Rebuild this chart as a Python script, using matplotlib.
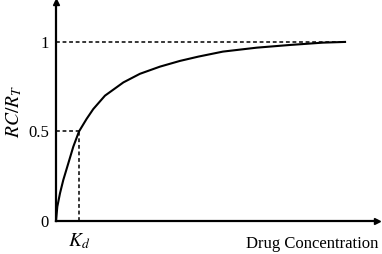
import matplotlib.pyplot as plt

# concentration in units of Kd
conc = [0, 0.057, 0.174, 0.317, 0.535, 0.752, 1.0, 1.33, 1.62, 2.13, 2.93,
        3.65, 4.52, 5.39, 6.19, 7.26, 8.73, 10.17, 11.6, 12.57]
occupancy = [0, 0.08, 0.155, 0.229, 0.322, 0.415, 0.5, 0.57, 0.625, 0.70, 0.774,
             0.822, 0.862, 0.894, 0.918, 0.946, 0.968, 0.983, 0.996, 1.0]
kd = 1.0
y_ticks = [0, 0.5, 1]
y_tick_labels = ['0', '0.5', '1']

plt.rcParams['font.family'] = ['Liberation Serif', 'DejaVu Serif']
plt.rcParams['mathtext.fontset'] = 'stix'

fig = plt.figure(figsize=(3.82, 2.54), dpi=100)
ax = fig.add_axes([56 / 382, 33 / 254, 321 / 382, 219 / 254])
xmax, ymax = 13.96, 1.223
ax.set_xlim(0, xmax)
ax.set_ylim(0, ymax)

ax.plot(conc, occupancy, color='black', lw=1.5, clip_on=False)
dash = (0, (2.5, 1.8))
ax.plot([0, conc[-1]], [1, 1], color='black', lw=1.1, ls=dash)
ax.plot([0, kd], [0.5, 0.5], color='black', lw=1.1, ls=dash)
ax.plot([kd, kd], [0, 0.5], color='black', lw=1.1, ls=dash)

for side in ['top', 'right']:
    ax.spines[side].set_visible(False)
for side in ['left', 'bottom']:
    ax.spines[side].set_linewidth(1.6)
ax.plot(1, 0, '>k', ms=5, transform=ax.transAxes, clip_on=False)
ax.plot(0, 1, '^k', ms=5, transform=ax.transAxes, clip_on=False)

ax.set_xticks([])
ax.set_yticks(y_ticks)
ax.set_yticklabels(y_tick_labels, fontsize=12)
ax.tick_params(axis='y', length=0, pad=5)

ax.set_ylabel('$RC/R_T$', fontsize=14, labelpad=3)
ax.text(kd, -0.06, '$K_d$', fontsize=14, ha='center', va='top')
ax.text(1.005, -0.07, 'Drug Concentration', transform=ax.transAxes,
        fontsize=12, ha='right', va='top')

fig.savefig('out.png', dpi=100)
